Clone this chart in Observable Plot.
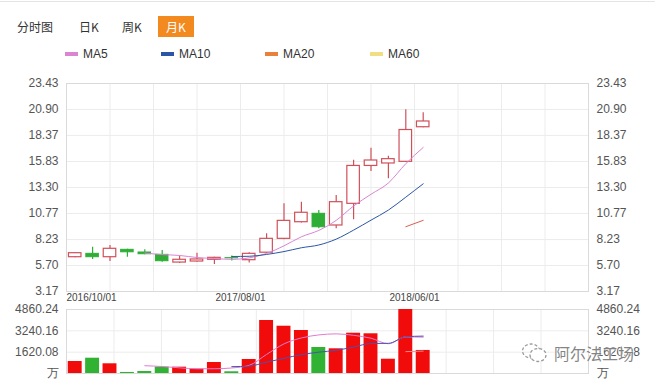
<!DOCTYPE html>
<html><head><meta charset="utf-8">
<script src="https://cdn.jsdelivr.net/npm/d3@7"></script>
<script src="https://cdn.jsdelivr.net/npm/@observablehq/plot@0.6"></script>
<style>
body{margin:0;background:#fff;font-family:"Liberation Sans",Arial,"Noto Sans CJK SC",sans-serif;}
#wrap{position:relative;width:655px;height:381px;overflow:hidden;background:#fff;}
#topline{position:absolute;left:0;top:1px;width:655px;height:1px;background:#e4e4e4;}
.tab{position:absolute;top:16px;height:21px;line-height:21px;font-size:12px;color:#333;font-family:"Noto Sans CJK SC","Liberation Sans",sans-serif;}
.tab.on{background:#f28a1f;color:#fff;text-align:center;width:36px;}
.sw{position:absolute;top:52px;width:13px;height:4px;}
.lg{position:absolute;top:47px;font-size:12px;line-height:14px;color:#333;}
.plot{position:absolute;left:0;}
#wm{position:absolute;left:521px;top:341px;font-size:16px;color:rgba(110,110,110,0.85);font-family:"Noto Sans CJK SC",sans-serif;display:flex;align-items:center;gap:6px;text-shadow:0 0 2px #fff,0 0 2px #fff;}
</style></head>
<body>
<div id="wrap">
  <div id="topline"></div>
  <div class="tab" style="left:17px">分时图</div>
  <div class="tab" style="left:79px">日K</div>
  <div class="tab" style="left:122px">周K</div>
  <div class="tab on" style="left:158px">月K</div>
  <div id="legend"></div>
  <div id="price" class="plot" style="top:70px"></div>
  <div id="vol" class="plot" style="top:305px"></div>
  <div id="wm"><svg width="27" height="22" viewBox="0 0 27 22"><ellipse cx="10" cy="9" rx="8.5" ry="7" fill="none" stroke="#999" stroke-width="1.3" stroke-dasharray="3 2"/><ellipse cx="17" cy="13" rx="8" ry="6.5" fill="#fff" stroke="#999" stroke-width="1.3" stroke-dasharray="3 2"/></svg><span>阿尔法工场</span></div>
</div>
<script>
// ---- data ----
const months = ["2016/10","2016/11","2016/12","2017/01","2017/02","2017/03","2017/04","2017/05","2017/06","2017/07","2017/08","2017/09","2017/10","2017/11","2017/12","2018/01","2018/02","2018/03","2018/04","2018/05","2018/06"];
const opens  = [6.51,6.84,6.51,7.23,6.97,6.74,5.99,6.09,6.26,6.42,6.22,6.95,8.30,9.92,10.74,9.60,11.71,15.40,15.64,15.80,19.17];
const closes = [6.90,6.51,7.33,6.99,6.80,6.12,6.26,6.29,6.45,6.40,6.84,8.30,10.05,10.84,9.43,11.87,15.40,15.93,16.06,18.90,19.73];
const highs  = [6.97,7.49,7.65,7.28,7.23,7.16,6.60,6.90,6.50,6.62,6.95,8.79,11.71,11.87,11.06,12.52,15.95,17.13,16.34,20.88,20.58];
const lows   = [6.45,6.29,6.09,6.51,6.74,6.02,5.90,6.02,5.80,6.14,5.95,6.90,8.22,9.85,9.28,9.28,10.17,14.86,14.15,15.75,19.11];
const volumes = [911,1162,737,80,150,480,480,330,835,130,1063,4025,3590,3265,1975,1875,3060,3015,1085,4860,1750];
const priceMA5  = [null,null,null,null,6.91,6.77,6.68,6.48,6.38,6.30,6.45,6.88,7.62,8.50,9.12,10.10,11.50,12.64,13.74,15.62,17.20];
const priceMA10 = [null,null,null,null,null,null,null,null,null,6.58,6.60,6.78,7.06,7.43,7.70,8.27,9.15,10.12,11.10,12.36,13.66];
const priceMA20 = [null,null,null,null,null,null,null,null,null,null,null,null,null,null,null,null,null,null,null,9.48,10.10];
const volMA5  = [null,null,null,null,590,530,430,360,360,420,620,1450,2250,2700,2930,3010,2900,2680,2260,2780,2760];
const volMA10 = [null,null,null,null,null,null,null,null,null,520,560,860,1150,1430,1620,1760,2010,2280,2290,2790,2840];
const volMA20 = [null,null,null,null,null,null,null,null,null,null,null,null,null,null,null,null,null,null,null,1660,1700];
const priceTicks = [3.17,5.70,8.23,10.77,13.30,15.83,18.37,20.90,23.43];
const volTicks = [0,1620.08,3240.16,4860.24];
const dateLabels = ["2016/10/01","2017/08/01","2018/06/01"];
const dateLabelSlots = [-0.5,9.5,19.5];
const legendNames = ["MA5","MA10","MA20","MA60"];

// ---- style ----
const RED = "#d0505a", GREEN = "#2fae36", VRED = "#f20b0b", VGREEN = "#30b233";
const C_MA5 = "#d985d3", C_MA10 = "#2a56a5", C_MA20 = "#e8823a", C_MA60 = "#f0de82";
const legendColors = [C_MA5, C_MA10, C_MA20, C_MA60];
const legendX = [65, 161, 265, 370];
const GRID = "#ececec";
const FONT = '"Liberation Sans", Arial, sans-serif';

// legend
const lg = document.getElementById("legend");
legendNames.forEach((name, k) => {
  const s = document.createElement("div"); s.className = "sw";
  s.style.left = legendX[k] + "px"; s.style.background = legendColors[k]; lg.appendChild(s);
  const t = document.createElement("div"); t.className = "lg";
  t.style.left = (legendX[k] + 18) + "px"; t.textContent = name; lg.appendChild(t);
});

const candles = months.map((m, i) => ({i, m, open: opens[i], close: closes[i], high: highs[i], low: lows[i], vol: volumes[i]}));
const up = candles.filter(d => d.close >= d.open);
const down = candles.filter(d => d.close < d.open);
const series = arr => arr.map((v, i) => ({i, v})).filter(d => d.v != null);
const xDomain = [-0.5, 29.5];
const HALF = 0.36, VHALF = 0.4;
const priceGridX = d3.range(13).map(k => -0.5 + 2.5 * k);
const volGridX = d3.range(12).map(k => -0.5 + 30 / 11 * k);
const dates = dateLabels.map((label, k) => ({label, x: dateLabelSlots[k]}));

const common = {
  width: 655, marginLeft: 66, marginRight: 67,
  style: {fontFamily: FONT, fontSize: "12px", background: "transparent", color: "#555", overflow: "visible"}
};

const price = Plot.plot({
  ...common, height: 235, marginTop: 13, marginBottom: 14,
  x: {domain: xDomain, axis: null},
  y: {domain: [3.17, 23.43]},
  marks: [
    Plot.ruleX(priceGridX, {stroke: GRID}),
    Plot.ruleY(priceTicks, {stroke: GRID}),
    Plot.frame({stroke: "#dadada"}),
    Plot.axisY(priceTicks, {anchor: "left", tickSize: 0, tickPadding: 8, label: null, tickFormat: d => d.toFixed(2), fill: "#555", fontSize: 12}),
    Plot.axisY(priceTicks, {anchor: "right", tickSize: 0, tickPadding: 8, label: null, tickFormat: d => d.toFixed(2), fill: "#555", fontSize: 12}),
    Plot.ruleX(up, {x: "i", y1: "low", y2: "high", stroke: RED, strokeWidth: 1.2}),
    Plot.ruleX(down, {x: "i", y1: "low", y2: "high", stroke: GREEN, strokeWidth: 1.2}),
    Plot.rect(up, {x1: d => d.i - HALF, x2: d => d.i + HALF, y1: "open", y2: "close", fill: "#fff", stroke: RED, strokeWidth: 1.2}),
    Plot.rect(down, {x1: d => d.i - HALF, x2: d => d.i + HALF, y1: "open", y2: "close", fill: GREEN, stroke: GREEN}),
    Plot.line(series(priceMA5), {x: "i", y: "v", stroke: C_MA5, strokeWidth: 1, curve: "monotone-x"}),
    Plot.line(series(priceMA10), {x: "i", y: "v", stroke: C_MA10, strokeWidth: 1, curve: "monotone-x"}),
    Plot.line(series(priceMA20), {x: "i", y: "v", stroke: "#d8604e", strokeWidth: 1}),
    Plot.text(dates.slice(0, 1), {x: "x", text: "label", frameAnchor: "bottom", dy: 9, textAnchor: "start", fill: "#444", fontSize: 10}),
    Plot.text(dates.slice(1), {x: "x", text: "label", frameAnchor: "bottom", dy: 9, textAnchor: "middle", fill: "#444", fontSize: 10})
  ]
});
document.getElementById("price").appendChild(price);

const volFmt = d => d === 0 ? "万" : d.toFixed(2);
const vol = Plot.plot({
  ...common, height: 76, marginTop: 4, marginBottom: 8,
  x: {domain: xDomain, axis: null},
  y: {domain: [0, 4860.24]},
  marks: [
    Plot.ruleX(volGridX, {stroke: GRID}),
    Plot.ruleY(volTicks.slice(1, 3), {stroke: GRID}),
    Plot.frame({stroke: "#dadada"}),
    Plot.axisY(volTicks, {anchor: "left", tickSize: 0, tickPadding: 8, label: null, tickFormat: volFmt, fill: "#555", fontSize: 12}),
    Plot.axisY(volTicks, {anchor: "right", tickSize: 0, tickPadding: 8, label: null, tickFormat: volFmt, fill: "#555", fontSize: 12}),
    Plot.rectY(up, {x1: d => d.i - VHALF, x2: d => d.i + VHALF, y1: 0, y2: "vol", fill: VRED}),
    Plot.rectY(down, {x1: d => d.i - VHALF, x2: d => d.i + VHALF, y1: 0, y2: "vol", fill: VGREEN}),
    Plot.line(series(volMA5), {x: "i", y: "v", stroke: "#e07ccf", strokeWidth: 1, curve: "monotone-x"}),
    Plot.line(series(volMA10), {x: "i", y: "v", stroke: "#4a52b0", strokeWidth: 1, curve: "monotone-x"}),
    Plot.line(series(volMA20), {x: "i", y: "v", stroke: "#f08a8a", strokeWidth: 1})
  ]
});
document.getElementById("vol").appendChild(vol);
</script>
</body></html>
